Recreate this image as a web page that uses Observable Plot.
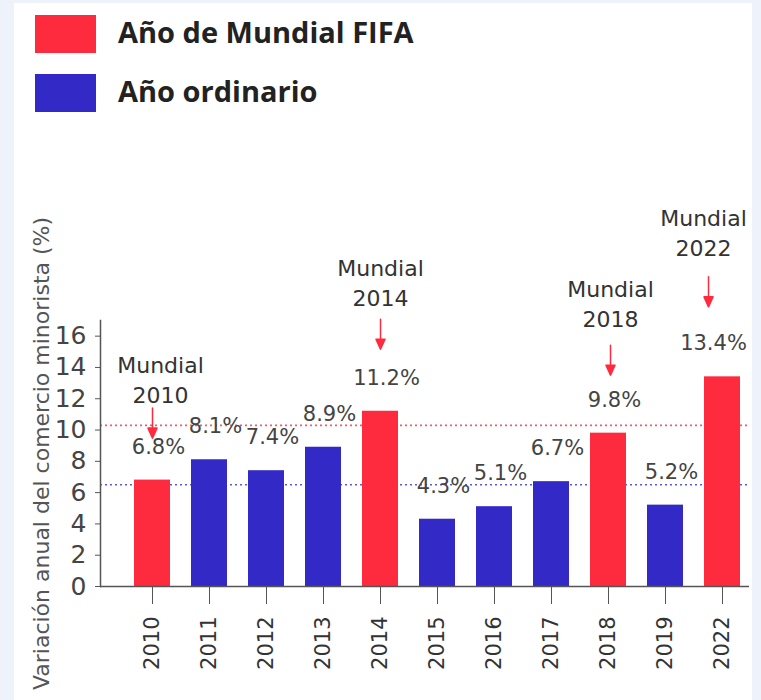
<!DOCTYPE html>
<html>
<head>
<meta charset="utf-8">
<script src="https://cdn.jsdelivr.net/npm/d3@7"></script>
<script src="https://cdn.jsdelivr.net/npm/@observablehq/plot@0.6"></script>
<style>
  html, body { margin: 0; padding: 0; }
  body { width: 761px; height: 700px; background: #eef2fa; position: relative; overflow: hidden; font-family: "DejaVu Sans", sans-serif; }
  #panel { position: absolute; left: 14px; top: 3px; width: 738px; height: 697px; background: #ffffff; }
  .sw { position: absolute; left: 35px; width: 61px; height: 38px; }
  .lt { position: absolute; left: 118px; font-family: "Open Sans", sans-serif; font-weight: 700; font-size: 29px; color: #222; line-height: 38px; }
  #chart { position: absolute; left: 0; top: 130px; }
</style>
</head>
<body>
<div id="panel"></div>
<div id="legend"></div>
<div id="chart"></div>
<script>
// ---- data ----
const years = ["2010", "2011", "2012", "2013", "2014", "2015", "2016", "2017", "2018", "2019", "2022"];
const values = [6.8, 8.1, 7.4, 8.9, 11.2, 4.3, 5.1, 6.7, 9.8, 5.2, 13.4];
const yearTypes = ["Año de Mundial FIFA", "Año ordinario", "Año ordinario", "Año ordinario", "Año de Mundial FIFA",
  "Año ordinario", "Año ordinario", "Año ordinario", "Año de Mundial FIFA", "Año ordinario", "Año de Mundial FIFA"];
const legendLabels = ["Año de Mundial FIFA", "Año ordinario"];
const barColors = ["#fe2b3e", "#3229c7"];
const lineColors = ["#f35a6c", "#5858dc"];
const averageValues = [10.3, 6.5];
const yTicks = [0, 2, 4, 6, 8, 10, 12, 14, 16];
const yLabel = "Variación anual del comercio minorista (%)";
const annotationWord = "Mundial";

const data = years.map((year, i) => ({year, value: values[i], type: yearTypes[i]}));
const averages = averageValues.map((v, i) => ({value: v, type: legendLabels[i]}));

// ---- legend ----
const legend = document.getElementById("legend");
legendLabels.forEach((lab, i) => {
  const top = i === 0 ? 15 : 74;
  const sw = document.createElement("div");
  sw.className = "sw";
  sw.style.top = top + "px";
  sw.style.background = barColors[i];
  legend.appendChild(sw);
  const t = document.createElement("div");
  t.className = "lt";
  t.style.top = (top - 2) + "px";
  t.textContent = lab;
  legend.appendChild(t);
});

const red = barColors[0];
const arrowShape = {
  draw(context, l) {
    const h = 10, w = 4.5;
    context.moveTo(0, 0);
    context.lineTo(0, -l + h);
    context.moveTo(-w, -l + h);
    context.lineTo(0, -l);
    context.lineTo(w, -l + h);
    context.closePath();
  }
};

function annot(year, dxText, dyText, dxArrow, dyArrow) {
  const d = data.filter(r => r.year === year);
  return [
    Plot.text(d, {x: "year", y: "value", text: r => `${annotationWord}\n${r.year}`, dx: dxText, dy: dyText,
      lineAnchor: "middle", lineHeight: 1.36, fontSize: 22, fill: "#333"}),
    Plot.vector(d, {x: "year", y: "value", length: 30, rotate: 180, anchor: "end", shape: arrowShape,
      dx: dxArrow, dy: dyArrow, stroke: red, fill: red, strokeWidth: 1.5})
  ];
}

const chart = Plot.plot({
  width: 761,
  height: 570,
  marginTop: 190,
  marginBottom: 114,
  marginLeft: 100,
  marginRight: 12,
  style: {background: "transparent", fontFamily: "DejaVu Sans, sans-serif"},
  x: {domain: years, paddingInner: 0.374, paddingOuter: 0.332, align: 0.79, axis: null},
  y: {domain: [0, 17], axis: null},
  color: {domain: legendLabels, range: barColors},
  marks: [
    Plot.ruleY(averages, {y: "value", stroke: (d, i) => lineColors[i], strokeWidth: 1.6, strokeDasharray: "2,3"}),
    Plot.barY(data, {x: "year", y: "value", fill: "type"}),
    Plot.ruleY([0], {stroke: "#555", strokeWidth: 1.5}),
    Plot.frame({anchor: "left", stroke: "#555", strokeWidth: 1.5}),
    Plot.axisY({ticks: yTicks, tickSize: 5, tickPadding: 9, fontSize: 25, color: "#444", stroke: "#555", label: null}),
    Plot.axisY({ticks: [], fontSize: 22, color: "#555", label: yLabel, labelAnchor: "center", labelOffset: 67, labelArrow: false}),
    Plot.axisX({tickRotate: -90, tickSize: 18, tickPadding: 12, fontSize: 21, color: "#333", stroke: "#555", label: null}),
    Plot.text(data.filter(d => d.year !== "2022"), {x: "year", y: "value", text: d => d.value.toFixed(1) + "%",
      dx: 6, dy: -33, fontSize: 21, fill: "#444"}),
    Plot.text(data.filter(d => d.year === "2022"), {x: "year", y: "value", text: d => d.value.toFixed(1) + "%",
      dx: -9, dy: -34, fontSize: 21, fill: "#444"}),
    ...annot("2010", 8, -102, 0, -42),
    ...annot("2014", 0, -130, 0, -62),
    ...annot("2018", 2, -131, 2, -58),
    ...annot("2022", -19, -145, -14, -70)
  ]
});
document.getElementById("chart").appendChild(chart);
</script>
</body>
</html>
